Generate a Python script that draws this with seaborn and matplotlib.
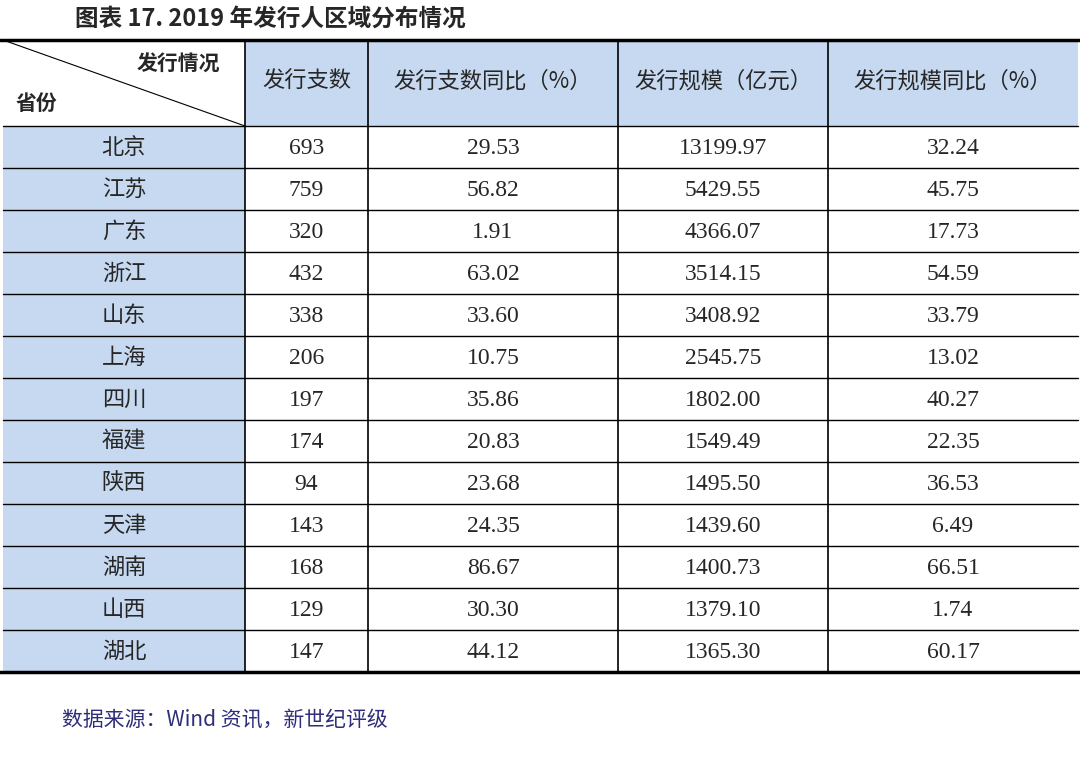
import matplotlib
matplotlib.use("Agg")
import matplotlib.pyplot as plt
import seaborn as sns
from matplotlib.patches import Rectangle

sns.set_theme(style="white")

title = "图表 17. 2019 年发行人区域分布情况"
source = "数据来源：Wind 资讯，新世纪评级"
corner_top = "发行情况"
corner_bottom = "省份"
columns = ["发行支数", "发行支数同比（%）", "发行规模（亿元）", "发行规模同比（%）"]
provinces = ["北京", "江苏", "广东", "浙江", "山东", "上海", "四川", "福建",
             "陕西", "天津", "湖南", "山西", "湖北"]
issue_count = ["693", "759", "320", "432", "338", "206", "197", "174", "94",
               "143", "168", "129", "147"]
issue_count_yoy = ["29.53", "56.82", "1.91", "63.02", "33.60", "10.75", "35.86",
                   "20.83", "23.68", "24.35", "86.67", "30.30", "44.12"]
issue_size = ["13199.97", "5429.55", "4366.07", "3514.15", "3408.92", "2545.75",
              "1802.00", "1549.49", "1495.50", "1439.60", "1400.73", "1379.10",
              "1365.30"]
issue_size_yoy = ["32.24", "45.75", "17.73", "54.59", "33.79", "13.02", "40.27",
                  "22.35", "36.53", "6.49", "66.51", "1.74", "60.17"]

cjk = "Noto Sans CJK SC"
num_font = "Liberation Serif"
blue = "#c6d9f0"

W, H = 1080, 766
fig = plt.figure(figsize=(W / 100, H / 100), dpi=100)
ax = fig.add_axes([0, 0, 1, 1])
ax.set_xlim(0, W)
ax.set_ylim(H, 0)
ax.axis("off")

col_edges = [3, 245, 368, 618, 828, 1078]
top, head_bot, row_h = 40, 126, 42.0
n = len(provinces)
bottom = head_bot + n * row_h

# fills
for i in range(1, len(col_edges) - 1):
    ax.add_patch(Rectangle((col_edges[i], top), col_edges[i + 1] - col_edges[i],
                           head_bot - top, color=blue, lw=0))
ax.add_patch(Rectangle((col_edges[0], head_bot), col_edges[1] - col_edges[0],
                       bottom - head_bot, color=blue, lw=0))

# grid lines
for y in [head_bot + r * row_h for r in range(1, n)] + [head_bot]:
    ax.plot([col_edges[0], col_edges[-1]], [y, y], color="black", lw=1)
for x in col_edges[1:-1]:
    ax.plot([x, x], [top, bottom], color="black", lw=1.2)
ax.plot([0, W], [top, top], color="black", lw=2.5)
ax.plot([0, W], [bottom, bottom], color="black", lw=2.5)
ax.plot([col_edges[0], col_edges[1]], [top, head_bot], color="black", lw=0.8)

ax.text(75, 19, title, fontfamily=cjk, fontsize=17, fontweight="bold", va="center")
ax.text(220, 64, corner_top, fontfamily=cjk, fontsize=15, fontweight="bold",
        ha="right", va="center")
ax.text(16, 103, corner_bottom, fontfamily=cjk, fontsize=15, fontweight="bold",
        va="center")
for i, c in enumerate(columns):
    ax.text((col_edges[i + 1] + col_edges[i + 2]) / 2, (top + head_bot) / 2 - 2, c,
            fontfamily=cjk, fontsize=16, ha="center", va="center")

data = [issue_count, issue_count_yoy, issue_size, issue_size_yoy]
for r, p in enumerate(provinces):
    yc = head_bot + (r + 0.5) * row_h
    ax.text((col_edges[0] + col_edges[1]) / 2, yc, p, fontfamily=cjk,
            fontsize=16, ha="center", va="center")
    for j, col in enumerate(data):
        ax.text((col_edges[j + 1] + col_edges[j + 2]) / 2, yc + 1, col[r],
                fontfamily=num_font, fontsize=17, ha="center", va="center")

ax.text(62, 720, source, fontfamily=cjk, fontsize=15, color="#2e2e7a",
        va="center")

fig.savefig("out.png", dpi=100)
